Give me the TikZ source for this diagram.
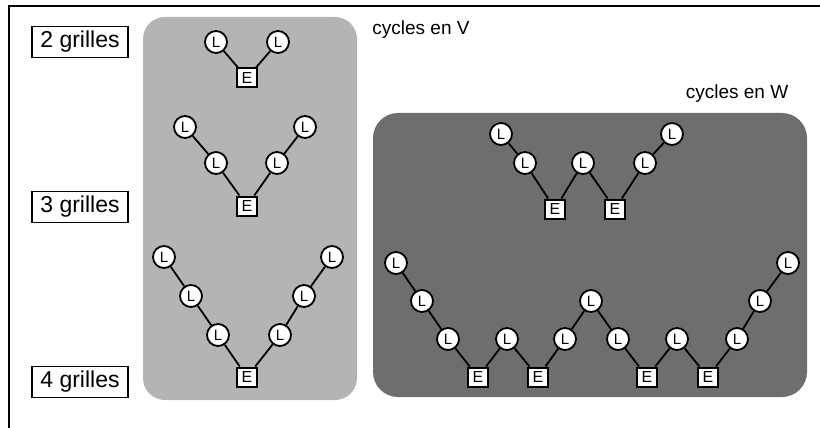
\documentclass[tikz,border=0pt]{standalone}
\usepackage{fontspec}
\setmainfont{Liberation Sans}
\definecolor{lightpanel}{HTML}{B4B4B4}
\definecolor{darkpanel}{HTML}{6E6E6E}
\tikzset{
  lnode/.style={circle, draw=black, fill=white, line width=1.8pt, minimum size=22pt, inner sep=0pt, font=\fontsize{15}{15}\selectfont},
  enode/.style={rectangle, draw=black, fill=white, line width=2pt, minimum width=20pt, minimum height=19pt, inner sep=0pt, font=\fontsize{16}{16}\selectfont},
  gridlabel/.style={rectangle, draw=black, line width=1.4pt, minimum width=96pt, minimum height=31pt, inner sep=2pt, font=\fontsize{23}{23}\selectfont},
  cyclelabel/.style={font=\fontsize{19}{19}\selectfont},
  link/.style={line width=1.8pt}
}
\begin{document}
\begin{tikzpicture}[x=1pt, y=-1pt]
\useasboundingbox (0,0) rectangle (820,428);

% Frame
\draw[line width=1.5pt] (820,6) -- (9,6) -- (9,428);

% Panels
\fill[lightpanel, rounded corners=22pt] (143,17) rectangle (357,400);
\fill[darkpanel, rounded corners=25pt] (373,113) rectangle (807,397);

% Titles
\node[cyclelabel] (titleV) at (421,30) {cycles en V};
\node[cyclelabel] (titleW) at (737,94) {cycles en W};

% Number of grids
\node[gridlabel] (g2) at (80,42) {2 grilles};
\node[gridlabel] (g3) at (80,207) {3 grilles};
\node[gridlabel] (g4) at (80,382) {4 grilles};

% =========== V cycles ===========
% 2 grids
\node[lnode] (v2a) at (216,42) {L};
\node[enode] (v2b) at (247,78) {E};
\node[lnode] (v2c) at (278,42) {L};
\draw[link] (v2a) -- (v2b) -- (v2c);

% 3 grids
\node[lnode] (v3a) at (185,127) {L};
\node[lnode] (v3b) at (216,163) {L};
\node[enode] (v3c) at (247,206) {E};
\node[lnode] (v3d) at (277,163) {L};
\node[lnode] (v3e) at (305,127) {L};
\draw[link] (v3a) -- (v3b) -- (v3c) -- (v3d) -- (v3e);

% 4 grids
\node[lnode] (v4a) at (164,257) {L};
\node[lnode] (v4b) at (191,296) {L};
\node[lnode] (v4c) at (218,335) {L};
\node[enode] (v4d) at (247,377) {E};
\node[lnode] (v4e) at (280,335) {L};
\node[lnode] (v4f) at (304,296) {L};
\node[lnode] (v4g) at (332,257) {L};
\draw[link] (v4a) -- (v4b) -- (v4c) -- (v4d) -- (v4e) -- (v4f) -- (v4g);

% =========== W cycles ===========
% 3 grids
\node[lnode] (w3a) at (501,134) {L};
\node[lnode] (w3b) at (525,163) {L};
\node[enode] (w3c) at (555,209) {E};
\node[lnode] (w3d) at (583,163) {L};
\node[enode] (w3e) at (615,209) {E};
\node[lnode] (w3f) at (645,163) {L};
\node[lnode] (w3g) at (672,134) {L};
\draw[link] (w3a) -- (w3b) -- (w3c) -- (w3d) -- (w3e) -- (w3f) -- (w3g);

% 4 grids
\node[lnode] (w4a) at (396,263) {L};
\node[lnode] (w4b) at (422,301) {L};
\node[lnode] (w4c) at (448,339) {L};
\node[enode] (w4d) at (478,377) {E};
\node[lnode] (w4e) at (507,339) {L};
\node[enode] (w4f) at (538,377) {E};
\node[lnode] (w4g) at (565,339) {L};
\node[lnode] (w4h) at (591,301) {L};
\node[lnode] (w4i) at (618,339) {L};
\node[enode] (w4j) at (647,377) {E};
\node[lnode] (w4k) at (677,339) {L};
\node[enode] (w4l) at (708,377) {E};
\node[lnode] (w4m) at (737,339) {L};
\node[lnode] (w4n) at (760,301) {L};
\node[lnode] (w4o) at (788,263) {L};
\draw[link] (w4a) -- (w4b) -- (w4c) -- (w4d) -- (w4e) -- (w4f) -- (w4g) -- (w4h)
  -- (w4i) -- (w4j) -- (w4k) -- (w4l) -- (w4m) -- (w4n) -- (w4o);

\end{tikzpicture}
\end{document}
